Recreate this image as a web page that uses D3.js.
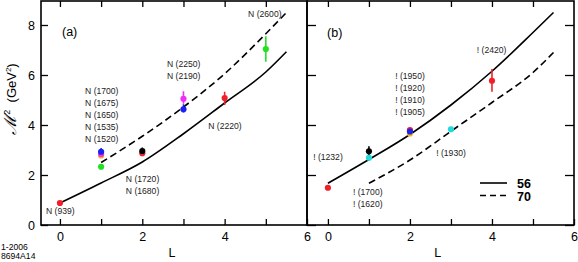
<!DOCTYPE html>
<html>
<head>
<meta charset="utf-8">
<script src="https://cdn.jsdelivr.net/npm/d3@7"></script>
<style>
  body { margin: 0; background: #fff; }
  svg { display: block; font-family: "Liberation Sans", Arial, sans-serif; }
</style>
</head>
<body>
<div id="chart"></div>
<script>
// L values where the Regge-type curves are sampled
const curveL = [0, 1, 2, 3, 4, 5, 5.5]
// M^2 along the curves (null = curve not drawn there)
const nSolid = [0.88, 1.68, 2.52, 3.65, 4.88, 6.12, 6.93]
const nDashed = [null, 2.5, 3.55, 4.72, 6.05, 7.65, 8.5]
const dSolid = [1.67, 2.62, 3.62, 4.8, 6.15, 7.7, 8.5]
const dDashed = [null, 1.67, 2.6, 3.75, 4.9, 6.1, 6.9]

// measured states: [L, M^2, error low, error high]
const nPoints = [
  [0, 0.88], [1, 2.33], [1, 2.78], [1, 2.84], [1, 2.93, 2.8, 3.08],
  [2, 2.87], [2, 2.96, 2.82, 3.1], [3, 4.63, 4.5, 4.83], [3, 5.05, 4.85, 5.35],
  [4, 5.08, 4.8, 5.33], [5, 7.04, 6.53, 7.55]
]
const nColors = ['red', 'green', 'orange', 'magenta', 'blue', 'red', 'black', 'blue', 'magenta', 'red', 'green']

const dPoints = [
  [0, 1.49], [1, 2.69], [1, 2.95, 2.75, 3.15], [2, 3.66], [2, 3.8], [2, 3.74],
  [3, 3.83], [4, 5.77, 5.33, 6.24]
]
const dColors = ['red', 'cyan', 'black', 'orange', 'red', 'blue', 'cyan', 'red']

const xTicks = [0, 1, 2, 3, 4, 5, 6]
const yTicks = [0, 2, 4, 6, 8]

// state labels, anchored in data units: [lines, L, M^2 of first baseline]
const nLabels = [
  [['N (1700)', 'N (1675)', 'N (1650)', 'N (1535)', 'N (1520)'], 0.61, 5.24],
  [['N (2250)', 'N (2190)'], 2.6, 6.32],
  [['N (2600)'], 4.57, 8.32],
  [['N (2220)'], 3.6, 3.84],
  [['N (1720)', 'N (1680)'], 1.6, 1.74],
  [['N (939)'], -0.34, 0.44]
]
const dLabels = [
  [['! (1950)', '! (1920)', '! (1910)', '! (1905)'], 1.64, 5.84],
  [['! (1232)'], -0.36, 2.6],
  [['! (1700)', '! (1620)'], 0.61, 1.2],
  [['! (2420)'], 3.63, 6.9],
  [['! (1930)'], 2.64, 2.76]
]

const colorMap = {
  red: '#f0202a', green: '#22e022', orange: '#f8b010', magenta: '#f030f0',
  blue: '#1a22f0', black: '#000', cyan: '#22dada'
}

const width = 578
const height = 262
const plotTop = 1
const plotBottom = 225

const svg = d3.select('#chart')
  .append('svg')
  .attr('width', width)
  .attr('height', height)

const yScale = d3.scaleLinear().domain([0, 8.96]).range([plotBottom, plotTop])

function panel(x0, x1, domain, solid, dashed, points, colors, labels, name, opts) {
  const xScale = d3.scaleLinear().domain(domain).range([x0, x1])
  const g = svg.append('g')

  const line = d3.line()
    .defined(d => d[1] != null)
    .x(d => xScale(d[0]))
    .y(d => yScale(d[1]))
    .curve(d3.curveMonotoneX)

  g.append('path')
    .datum(curveL.map((l, i) => [l, solid[i]]))
    .attr('d', line)
    .attr('fill', 'none')
    .attr('stroke', '#000')
    .attr('stroke-width', 1.6)

  g.append('path')
    .datum(curveL.map((l, i) => [l, dashed[i]]))
    .attr('d', line)
    .attr('fill', 'none')
    .attr('stroke', '#000')
    .attr('stroke-width', 1.6)
    .attr('stroke-dasharray', '7,4')

  // error bars
  g.selectAll('.err')
    .data(points.map((p, i) => ({ p, c: colors[i] })).filter(d => d.p[2] != null))
    .join('line')
    .attr('x1', d => xScale(d.p[0]))
    .attr('x2', d => xScale(d.p[0]))
    .attr('y1', d => yScale(d.p[2]))
    .attr('y2', d => yScale(d.p[3]))
    .attr('stroke', d => colorMap[d.c])
    .attr('stroke-width', 1.6)

  g.selectAll('.pt')
    .data(points.map((p, i) => ({ p, c: colors[i] })))
    .join('circle')
    .attr('cx', d => xScale(d.p[0]))
    .attr('cy', d => yScale(d.p[1]))
    .attr('r', 3.1)
    .attr('fill', d => colorMap[d.c])

  // labels
  labels.forEach(([lines, l, m2]) => {
    const t = g.append('text')
      .attr('x', xScale(l))
      .attr('y', yScale(m2))
      .attr('font-size', '8.6px')
      .attr('fill', '#222')
    lines.forEach((s, i) => {
      t.append('tspan')
        .attr('x', xScale(l))
        .attr('dy', i === 0 ? 0 : 12)
        .text(s)
    })
  })

  g.append('text')
    .attr('x', xScale(name[1]))
    .attr('y', yScale(name[2]))
    .attr('font-size', '12.5px')
    .text(name[0])

  // frame
  g.append('rect')
    .attr('x', x0)
    .attr('y', plotTop)
    .attr('width', x1 - x0)
    .attr('height', plotBottom - plotTop)
    .attr('fill', 'none')
    .attr('stroke', '#000')
    .attr('stroke-width', 1.6)

  const xAxis = d3.axisBottom(xScale)
    .tickValues(xTicks)
    .tickSize(-6)
    .tickPadding(7)
    .tickFormat(d => d % 2 ? '' : d)
  g.append('g')
    .attr('transform', `translate(0 ${plotBottom})`)
    .call(xAxis)

  g.append('g')
    .attr('transform', `translate(0 ${plotTop})`)
    .call(d3.axisTop(xScale).tickValues(xTicks.slice(0, -1)).tickSize(-6).tickFormat(''))

  if (opts.leftLabels) {
    g.append('g')
      .attr('transform', `translate(${x0} 0)`)
      .call(d3.axisLeft(yScale).tickValues(yTicks).tickSize(-7).tickPadding(6))
  } else {
    g.append('g')
      .attr('transform', `translate(${x0} 0)`)
      .call(d3.axisLeft(yScale).tickValues(yTicks).tickSize(-9).tickFormat(''))
    g.append('g')
      .attr('transform', `translate(${x1} 0)`)
      .call(d3.axisRight(yScale).tickValues(yTicks).tickSize(-9).tickFormat(''))
  }

  g.selectAll('.domain').remove()
  g.selectAll('.tick line').attr('stroke', '#000').attr('stroke-width', 1.3)
  g.selectAll('.tick text')
    .attr('font-size', '12.5px')
    .attr('font-family', '"Liberation Sans", Arial, sans-serif')
    .attr('fill', '#000')

  g.append('text')
    .attr('x', xScale(opts.lPos))
    .attr('y', 257)
    .attr('text-anchor', 'middle')
    .attr('font-size', '12.5px')
    .text('L')

  return xScale
}

panel(41, 307, [-0.46, 6], nSolid, nDashed, nPoints, nColors, nLabels,
  ['(a)', 0.05, 7.56], { leftLabels: true, lPos: 2.72 })

panel(307, 574, [-0.51, 6], dSolid, dDashed, dPoints, dColors, dLabels,
  ['(b)', -0.02, 7.54], { leftLabels: false, lPos: 2.68 })

// legend
const legend = svg.append('g').attr('transform', 'translate(480 183)')
legend.append('line')
  .attr('x1', 0).attr('x2', 27).attr('y1', 0).attr('y2', 0)
  .attr('stroke', '#000').attr('stroke-width', 1.6)
legend.append('line')
  .attr('x1', 0).attr('x2', 27).attr('y1', 12.5).attr('y2', 12.5)
  .attr('stroke', '#000').attr('stroke-width', 1.6)
  .attr('stroke-dasharray', '6,4')
legend.append('text')
  .attr('x', 37).attr('y', 4.5)
  .attr('font-size', '12.5px').attr('font-weight', 'bold')
  .text('56')
legend.append('text')
  .attr('x', 37).attr('y', 17.5)
  .attr('font-size', '12.5px').attr('font-weight', 'bold')
  .text('70')

// y axis title
const yTitle = svg.append('text')
  .attr('transform', 'translate(16 99) rotate(-90)')
  .attr('text-anchor', 'middle')
  .attr('font-size', '13px')
yTitle.append('tspan')
  .attr('font-size', '17px')
  .attr('font-family', '"DejaVu Serif", serif')
  .attr('font-style', 'italic')
  .text('ℳ')
yTitle.append('tspan').attr('font-size', '9px').attr('dy', -6).text('2')
yTitle.append('tspan').attr('dy', 6).text('\u00a0\u00a0(GeV')
yTitle.append('tspan').attr('font-size', '8px').attr('dy', -5).text('2')
yTitle.append('tspan').attr('dy', 5).text(')')

svg.append('text')
  .attr('x', 1).attr('y', 249.5)
  .attr('font-size', '8.6px')
  .text('1-2006')
svg.append('text')
  .attr('x', 1).attr('y', 258.5)
  .attr('font-size', '8.6px')
  .text('8694A14')
</script>
</body>
</html>
